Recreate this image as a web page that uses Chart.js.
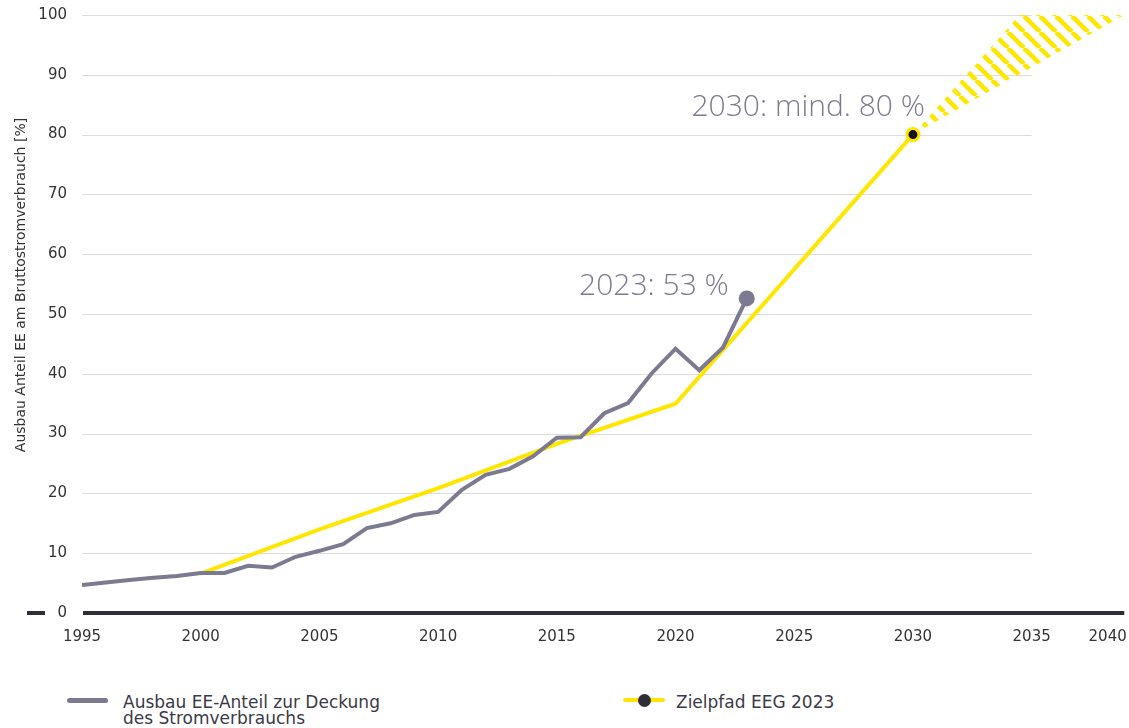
<!DOCTYPE html>
<html>
<head>
<meta charset="utf-8">
<script src="https://cdn.jsdelivr.net/npm/chart.js@4.4.1/dist/chart.umd.min.js"></script>
<style>
  body { margin: 0; background: #fff; }
  #wrap { position: relative; width: 1129px; height: 728px; }
  #chart { position: absolute; left: 0; top: 0; }
  .legend { position: absolute; font-family: "DejaVu Sans", sans-serif; font-size: 17px; color: #3a3a48; line-height: 16px; white-space: nowrap; }
  .sw { position: absolute; height: 5px; border-radius: 3px; }
</style>
</head>
<body>
<div id="wrap">
  <canvas id="chart" width="1129" height="660"></canvas>
  <div class="sw" style="left:67px; top:698px; width:41px; background:#7b7a90;"></div>
  <div class="legend" style="left:123px; top:694px;">Ausbau EE-Anteil zur Deckung<br>des Stromverbrauchs</div>
  <div class="sw" style="left:623px; top:698px; width:42px; height:4px; background:#ffe600;"></div>
  <div class="sw" style="left:638px; top:694px; width:13px; height:13px; border-radius:7px; background:#2e2e38;"></div>
  <div class="legend" style="left:676px; top:694px;">Zielpfad EEG 2023</div>
</div>
<script>
// actual share of renewables, 1995..2023
const years = [1995, 1996, 1997, 1998, 1999, 2000, 2001, 2002, 2003, 2004, 2005, 2006, 2007, 2008, 2009,
               2010, 2011, 2012, 2013, 2014, 2015, 2016, 2017, 2018, 2019, 2020, 2021, 2022, 2023];
const shares = [4.7, 5.1, 5.5, 5.9, 6.2, 6.7, 6.7, 7.9, 7.6, 9.4, 10.4, 11.5, 14.2, 15.0, 16.4,
                16.9, 20.6, 23.1, 24.1, 26.2, 29.3, 29.4, 33.4, 35.1, 40.1, 44.2, 40.6, 44.4, 52.6];

// target path EEG 2023
const targetYears = [2000, 2005, 2010, 2015, 2020, 2030];
const targetShares = [6.6, 14.0, 20.9, 28.3, 35.0, 80];

// hatched corridor after 2030
const corridorUpperYears = [2030, 2034.5, 2039.1];
const corridorUpper = [80, 100, 100];
const corridorLowerYears = [2030, 2038.9];
const corridorLower = [80, 100];

const xTicks = [1995, 2000, 2005, 2010, 2015, 2020, 2025, 2030, 2035, 2040];
const X_MIN = 1995, X_MAX = 2039.1;
const labelNow = '2023: 53 %';
const labelGoal = '2030: mind. 80 %';
const yTitle = 'Ausbau Anteil EE am Bruttostromverbrauch [%]';

const GRAY = '#7b7a90';
const YELLOW = '#ffe600';
const DARK = '#2e2e38';

const pts = (xs, ys) => xs.map((x, i) => ({x: x, y: ys[i]}));

function hatch() {
    const c = document.createElement('canvas');
    c.width = 16; c.height = 16;
    const g = c.getContext('2d');
    g.strokeStyle = YELLOW;
    g.lineWidth = 4.5;
    [-16, 0, 16].forEach(dx => {
        g.beginPath(); g.moveTo(dx, 0); g.lineTo(dx + 16, 16); g.stroke();
    });
    return g.createPattern(c, 'repeat');
}

// grid lines (only up to 2035), thick zero line and the annotations
const decor = {
    id: 'decor',
    beforeDatasetsDraw(chart) {
        const {ctx, chartArea, scales: {x, y}} = chart;
        ctx.save();
        ctx.strokeStyle = '#dcdce0';
        ctx.lineWidth = 1;
        for (let v = 10; v <= 100; v += 10) {
            const py = Math.round(y.getPixelForValue(v)) + 0.5;
            ctx.beginPath(); ctx.moveTo(chartArea.left, py); ctx.lineTo(x.getPixelForValue(2035), py); ctx.stroke();
        }
        const y0 = y.getPixelForValue(0);
        ctx.strokeStyle = DARK;
        ctx.lineWidth = 4;
        ctx.beginPath(); ctx.moveTo(chartArea.left + 1, y0); ctx.lineTo(x.getPixelForValue(2038.9), y0); ctx.stroke();
        ctx.beginPath(); ctx.moveTo(27, y0); ctx.lineTo(45, y0); ctx.stroke();
        ctx.restore();
    },
    afterDatasetsDraw(chart) {
        const {ctx, scales: {x, y}} = chart;
        ctx.save();
        ctx.fillStyle = GRAY;
        ctx.font = '300 30px "Open Sans"';
        ctx.textAlign = 'right';
        ctx.textBaseline = 'alphabetic';
        const last = years.length - 1;
        ctx.fillText(labelNow, x.getPixelForValue(years[last]) - 18, y.getPixelForValue(shares[last]) - 3);
        const t = targetYears.length - 1;
        ctx.fillText(labelGoal, x.getPixelForValue(targetYears[t]) + 12, y.getPixelForValue(targetShares[t]) - 19);

        ctx.fillStyle = '#333';
        ctx.font = '14px "DejaVu Sans"';
        ctx.textAlign = 'center';
        ctx.translate(25, 285);
        ctx.rotate(-Math.PI / 2);
        ctx.fillText(yTitle, 0, 0);
        ctx.restore();
    }
};

new Chart(document.getElementById('chart'), {
    type: 'line',
    data: {
        datasets: [
            {
                data: pts(years, shares),
                borderColor: GRAY,
                borderWidth: 4,
                backgroundColor: GRAY,
                pointRadius: years.map((_, i) => i === years.length - 1 ? 8 : 0),
                pointBorderWidth: 0,
                fill: false
            },
            {
                data: pts(targetYears, targetShares),
                borderColor: YELLOW,
                borderWidth: 4,
                pointRadius: targetYears.map((_, i) => i === targetYears.length - 1 ? 6 : 0),
                pointBackgroundColor: '#111',
                pointBorderColor: YELLOW,
                pointBorderWidth: 3,
                fill: false
            },
            {
                data: pts(corridorUpperYears, corridorUpper),
                borderWidth: 0,
                pointRadius: 0,
                backgroundColor: hatch(),
                fill: '+1'
            },
            {
                data: pts(corridorLowerYears, corridorLower),
                borderWidth: 0,
                pointRadius: 0,
                fill: false
            }
        ]
    },
    options: {
        responsive: false,
        animation: false,
        layout: {autoPadding: false, padding: {top: 15, right: 0, left: 0, bottom: 0}},
        plugins: {legend: {display: false}, tooltip: {enabled: false}},
        scales: {
            x: {
                type: 'linear',
                min: X_MIN,
                max: X_MAX,
                bounds: 'data',
                border: {display: false},
                // tick marks are hidden with the grid, tickLength only spaces the labels
                grid: {display: false, drawTicks: true, tickLength: 15},
                afterBuildTicks: s => {
                    // 2040 sits just past the plotted range; place its label at the edge
                    s.ticks = xTicks.map(v => ({value: v === 2040 ? 2038.2 : v}));
                },
                afterFit: s => { s.height = 47; s.paddingLeft = 0; s.paddingRight = 0; },
                ticks: {
                    autoSkip: false,
                    maxRotation: 0,
                    padding: 0,
                    color: '#333',
                    font: {family: 'DejaVu Sans', size: 15},
                    callback: v => v > 2036 ? '2040' : String(v)
                }
            },
            y: {
                min: 0,
                max: 100,
                border: {display: false},
                grid: {display: false, drawTicks: false},
                afterFit: s => { s.width = 82; s.paddingTop = 0; s.paddingBottom = 0; },
                ticks: {
                    stepSize: 10,
                    padding: 15,
                    color: '#333',
                    font: {family: 'DejaVu Sans', size: 15}
                }
            }
        }
    },
    plugins: [decor]
});
</script>
</body>
</html>
